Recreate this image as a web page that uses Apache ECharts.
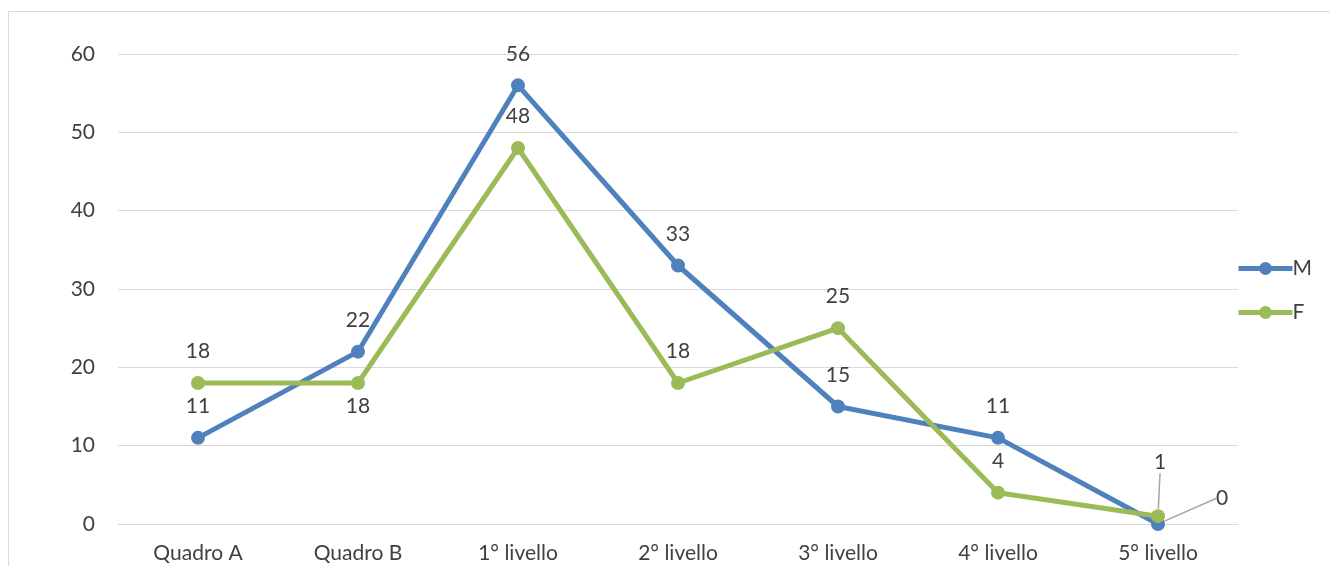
<!DOCTYPE html>
<html><head><meta charset="utf-8">
<script src="https://cdn.jsdelivr.net/npm/echarts@6/dist/echarts.min.js"></script>
<style>html,body{margin:0;padding:0;background:#fff}#c{width:1330px;height:566px}</style>
</head><body><div id="c"></div>
<script>
const categories = ['Quadro A','Quadro B','1° livello','2° livello','3° livello','4° livello','5° livello'];
const valuesM = [11, 22, 56, 33, 15, 11, 0];
const valuesF = [18, 18, 48, 18, 25, 4, 1];
const yTicks = {min: 0, max: 60, interval: 10};

const FONT = 'Lato';
const FS = 21;
const TXT = '#404040';
const chart = echarts.init(document.getElementById('c'), null, {renderer: 'canvas'});

function mkData(vals, special) {
  return vals.map((v, i) => special[i] ? Object.assign({value: v}, special[i]) : v);
}
const guide = {labelLine: {show: true, lineStyle: {color: '#a6a6a6', width: 1.5}}};

chart.setOption({
  animation: false,
  graphic: [{type: 'rect', shape: {x: 8.5, y: 11.5, width: 1340, height: 600},
    style: {fill: 'none', stroke: '#d9d9d9', lineWidth: 1}, silent: true}],
  grid: {left: 118, right: 92, top: 54, bottom: 42},
  legend: {
    orient: 'vertical', left: 1236, top: 258, padding: 0, itemWidth: 54, itemHeight: 16, itemGap: 23,
    textStyle: {fontFamily: FONT, fontSize: FS, color: TXT, padding: [0,0,0,-5]},
    data: [{name: 'M', lineStyle: {width: 5}}, {name: 'F', lineStyle: {width: 5}}]
  },
  xAxis: {
    type: 'category', data: categories, boundaryGap: true,
    axisLine: {show: true, lineStyle: {color: '#d9d9d9', width: 1}},
    axisTick: {show: false},
    axisLabel: {fontFamily: FONT, fontSize: FS, color: TXT, margin: 19}
  },
  yAxis: {
    type: 'value', min: yTicks.min, max: yTicks.max, interval: yTicks.interval,
    axisLine: {show: false}, axisTick: {show: false},
    splitLine: {lineStyle: {color: '#d9d9d9', width: 1}},
    axisLabel: {fontFamily: FONT, fontSize: FS, color: TXT, margin: 23}
  },
  series: [
    {
      name: 'M', type: 'line',
      data: mkData(valuesM, {6: guide}),
      symbol: 'circle', symbolSize: 14,
      lineStyle: {color: '#4F81BD', width: 5},
      itemStyle: {color: '#4F81BD'},
      label: {show: true, position: 'top', distance: 14, fontFamily: FONT, fontSize: FS, color: TXT},
      labelLine: {show: false},
      labelLayout: function (p) {
        if (p.dataIndex === 6) return {dx: 64, dy: 6};
        return {};
      },
      z: 2
    },
    {
      name: 'F', type: 'line',
      data: mkData(valuesF, {1: {label: {position: 'bottom', distance: 6}}, 6: guide}),
      symbol: 'circle', symbolSize: 14,
      lineStyle: {color: '#9BBB59', width: 5},
      itemStyle: {color: '#9BBB59'},
      label: {show: true, position: 'top', distance: 14, fontFamily: FONT, fontSize: FS, color: TXT},
      labelLine: {show: false},
      labelLayout: function (p) {
        if (p.dataIndex === 6) return {dx: 2, dy: -22};
        return {};
      },
      z: 3
    }
  ]
});
</script></body></html>
